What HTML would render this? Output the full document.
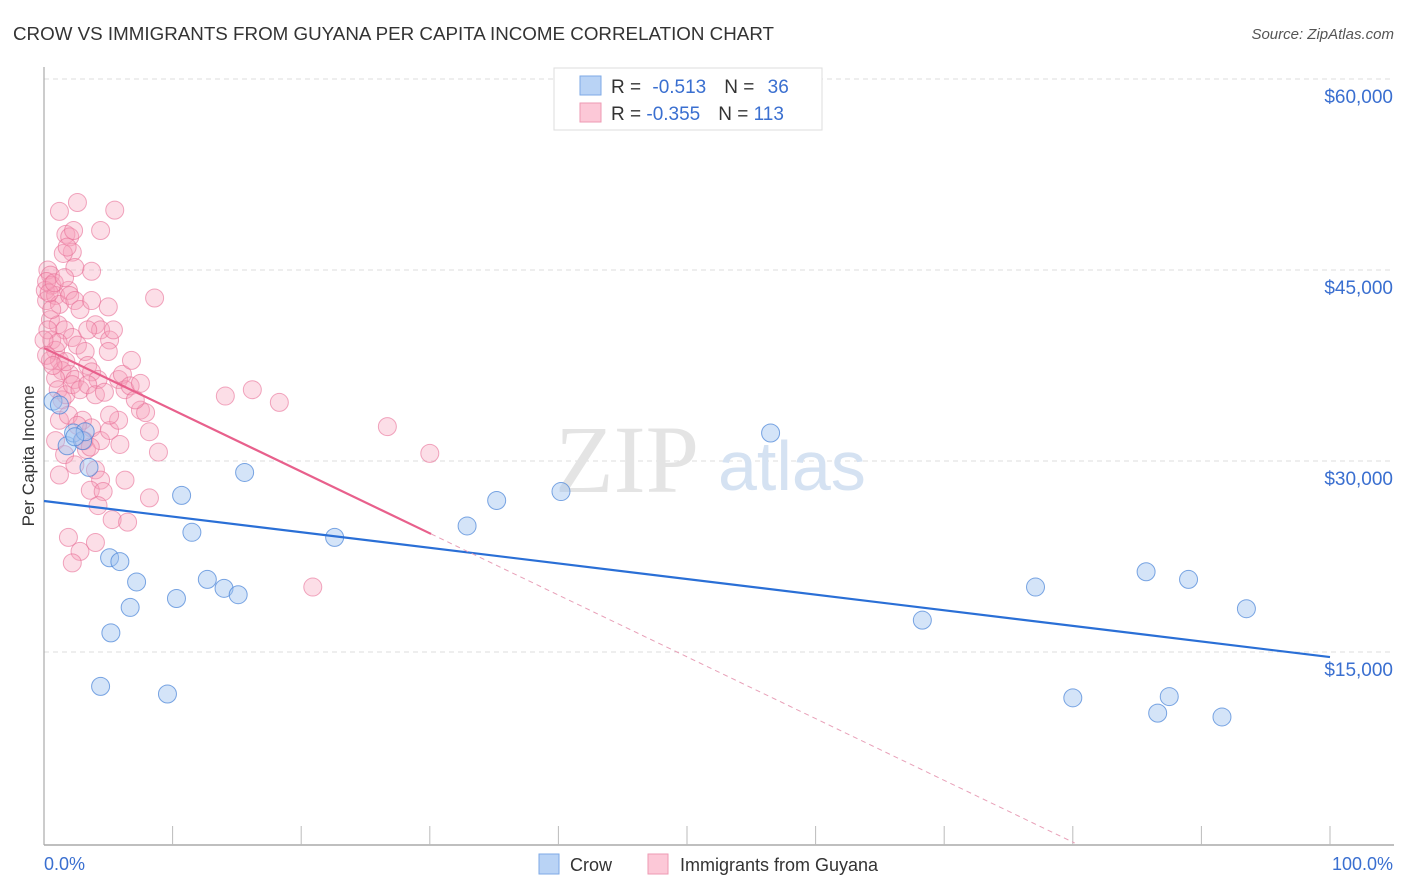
<!DOCTYPE html>
<html><head><meta charset="utf-8">
<style>
body{margin:0;background:#fff;width:1406px;height:892px;overflow:hidden;font-family:"Liberation Sans",sans-serif;}
svg{display:block}
</style></head>
<body>
<svg id="chart" width="1406" height="892" xmlns="http://www.w3.org/2000/svg">
<text x="13" y="40" font-size="18.5" fill="#333" textLength="761" lengthAdjust="spacingAndGlyphs">CROW VS IMMIGRANTS FROM GUYANA PER CAPITA INCOME CORRELATION CHART</text>
<text x="1394" y="39" font-size="15" fill="#555" font-style="italic" text-anchor="end">Source: ZipAtlas.com</text>
<g id="grid"></g>
<text x="555" y="492" font-size="96" fill="#e4e4e4" font-family="Liberation Serif,serif">ZIP</text>
<text x="718" y="490" font-size="70" fill="#d5e2f2">atlas</text>
<g id="axes"></g>
<g id="marks"></g>
<g id="trends"></g>
<text transform="translate(34,456) rotate(-90)" font-size="17" fill="#333" text-anchor="middle">Per Capita Income</text>
<g>
<rect x="554" y="68" width="268" height="62" fill="#fff" stroke="#ddd"/>
<rect x="580" y="76" width="21" height="19" fill="#b9d3f5" stroke="#7ea9e6"/>
<rect x="580" y="103" width="21" height="19" fill="#fcc8d7" stroke="#ee9ab3"/>
<text x="611" y="93" font-size="19" fill="#333">R = <tspan fill="#3a6fd0" dx="6">-0.513</tspan><tspan fill="#333" dx="18">N = </tspan><tspan fill="#3a6fd0" dx="8">36</tspan></text>
<text x="611" y="120" font-size="19" fill="#333">R = <tspan fill="#3a6fd0">-0.355</tspan><tspan fill="#333" dx="18">N = </tspan><tspan fill="#3a6fd0">113</tspan></text>
</g>
<g>
<rect x="539" y="854" width="20" height="20" fill="#b9d3f5" stroke="#7ea9e6"/>
<text x="570" y="871" font-size="18" fill="#333">Crow</text>
<rect x="648" y="854" width="20" height="20" fill="#fcc8d7" stroke="#ee9ab3"/>
<text x="680" y="871" font-size="18" fill="#333">Immigrants from Guyana</text>
</g>
<text x="44" y="870" font-size="18" fill="#3a6fd0">0.0%</text>
<text x="1393" y="870" font-size="18" fill="#3a6fd0" text-anchor="end">100.0%</text>
</svg>
<script>
const yTicks=[15000,30000,45000,60000];
const yTickLabels=["$15,000","$30,000","$45,000","$60,000"];
const crowX=[0.7,1.8,2.3,3.0,3.5,5.1,5.9,5.2,6.7,7.2,4.4,9.6,10.3,10.7,11.5,12.7,14.0,15.1,15.6,22.6,32.9,35.2,40.2,56.5,68.3,77.1,80.0,85.7,86.6,87.5,89.0,91.6,93.5,1.2,3.2,2.4];
const crowY=[34.7,31.2,32.2,31.6,29.5,22.4,22.1,16.5,18.5,20.5,12.3,11.7,19.2,27.3,24.4,20.7,20.0,19.5,29.1,24.0,24.9,26.9,27.6,32.2,17.5,20.1,11.4,21.3,10.2,11.5,20.7,9.9,18.4,34.4,32.3,31.9];
const guyX=[1.2,2.6,5.5,1.7,2.0,2.2,1.5,4.4,2.3,1.8,3.7,2.4,0.3,0.5,0.6,0.1,0.2,0.9,1.2,1.9,2.0,2.4,2.8,8.6,5.0,0.5,1.1,1.6,2.2,2.6,3.2,4.0,4.4,5.1,5.4,0.6,0.9,1.2,1.4,2.0,2.4,3.4,3.7,4.2,5.0,5.8,6.1,6.3,6.7,7.5,7.9,7.1,0.9,1.1,1.4,1.7,2.2,2.8,3.4,4.0,4.7,1.2,1.9,3.0,3.7,4.4,5.1,5.8,8.2,8.9,14.1,16.2,18.3,26.7,30.0,0.9,1.6,2.4,3.3,4.0,4.4,3.6,4.6,6.3,8.2,5.3,6.5,1.9,4.0,2.8,2.2,20.9,4.2,1.2,0.5,0.3,0.6,0.2,0.4,0.8,1.1,1.7,3.1,3.6,2.6,5.9,6.8,7.5,3.4,3.7,5.1,1.6,0.0,0.2,0.7];
const guyY=[49.6,50.3,49.7,47.8,47.6,46.4,46.3,48.1,48.1,46.8,44.9,45.2,45.0,44.6,43.8,43.4,42.6,43.0,42.3,43.4,43.0,42.6,41.9,42.8,42.1,41.1,40.7,40.3,39.7,39.1,38.6,40.7,40.3,39.5,40.3,39.5,38.7,37.9,37.1,36.8,36.4,37.5,37.0,36.4,38.6,36.4,36.8,35.6,35.9,34.0,33.8,34.8,36.5,35.6,34.8,35.2,36.0,35.6,36.0,35.2,35.4,33.2,33.6,33.2,32.6,31.6,32.4,33.2,32.3,30.7,35.1,35.6,34.6,32.7,30.6,31.6,30.5,29.7,30.9,29.3,28.5,27.7,27.6,28.5,27.1,25.4,25.2,24.0,23.6,22.9,22.0,20.1,26.5,28.9,37.9,40.3,41.9,44.1,43.2,44.0,39.3,37.8,31.6,31.1,32.8,31.3,37.9,36.1,40.3,42.6,33.6,44.4,39.5,38.3,37.5];
const crowTrend=[26.86,14.6];      // $k at 0% and 100%
const guyTrend=[38.87,-0.485,30.1]; // intercept $k, slope per %, solid end %
const NS="http://www.w3.org/2000/svg";
const sx=p=>44+p*12.86;
const sy=v=>843-v*191/15000;
const syk=k=>sy(k*1000);
function mk(tag,attrs,parent){const e=document.createElementNS(NS,tag);for(const k in attrs)e.setAttribute(k,attrs[k]);parent.appendChild(e);return e;}
const grid=document.getElementById('grid');
yTicks.forEach((t,i)=>{
  const l=mk('line',{x1:44,x2:1394,y1:sy(t),y2:sy(t),stroke:'#ddd','stroke-dasharray':'5,4'},grid);
  
  
  const tx=mk('text',{x:1393,y:sy(t)+24,'font-size':19,fill:'#3a6fd0','text-anchor':'end'},grid);
  tx.textContent=yTickLabels[i];
  
  
});
const axes=document.getElementById('axes');
mk('line',{x1:44,x2:44,y1:67,y2:845,stroke:'#aaa','stroke-width':1.2},axes);
mk('line',{x1:44,x2:1394,y1:845,y2:845,stroke:'#aaa','stroke-width':1.5},axes);
for(let i=1;i<=10;i++){const t=mk('line',{x1:sx(i*10),x2:sx(i*10),y1:826,y2:845,stroke:'#bbb'},axes);
  
  }
const marks=document.getElementById('marks');
guyX.forEach((x,i)=>{const c=mk('circle',{cx:sx(x),cy:syk(guyY[i]),r:9,fill:'rgba(246,160,187,0.35)',stroke:'rgba(232,110,150,0.6)','stroke-width':1},marks);
  
  });
crowX.forEach((x,i)=>{const c=mk('circle',{cx:sx(x),cy:syk(crowY[i]),r:9,fill:'rgba(160,196,240,0.45)',stroke:'rgba(70,130,215,0.7)','stroke-width':1},marks);
  
  });
const tr=document.getElementById('trends');
const bl=mk('line',{x1:sx(0),y1:syk(crowTrend[0]),x2:sx(100),y2:syk(crowTrend[1]),stroke:'#2a6fd6','stroke-width':2.2},tr);


const gf=p=>guyTrend[0]+guyTrend[1]*p;
const zero=-guyTrend[0]/guyTrend[1];
const ps=mk('line',{x1:sx(0),y1:syk(gf(0)),x2:sx(guyTrend[2]),y2:syk(gf(guyTrend[2])),stroke:'#e8608c','stroke-width':2.2},tr);


const pd=mk('line',{x1:sx(guyTrend[2]),y1:syk(gf(guyTrend[2])),x2:sx(zero),y2:syk(0),stroke:'#e8a0b8','stroke-width':1,'stroke-dasharray':'5,4'},tr);


</script>
</body></html>
